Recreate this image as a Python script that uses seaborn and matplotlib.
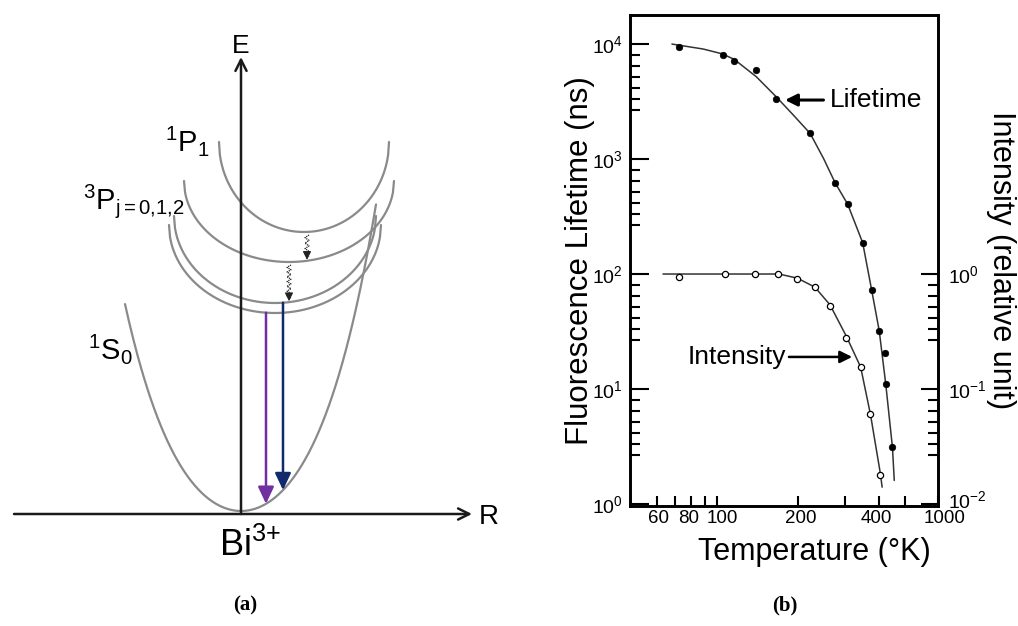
import numpy as np
import matplotlib
matplotlib.use('Agg')
import matplotlib.pyplot as plt
import matplotlib.ticker as mticker
import matplotlib.transforms as mtransforms
import seaborn as sns

sns.set_theme(style='white')
plt.rcParams['font.family'] = ['Liberation Sans', 'DejaVu Sans']
plt.rcParams['mathtext.fontset'] = 'custom'
plt.rcParams['mathtext.rm'] = 'Liberation Sans'
plt.rcParams['mathtext.it'] = 'Liberation Sans:italic'
plt.rcParams['mathtext.bf'] = 'Liberation Sans:bold'
plt.rcParams['mathtext.default'] = 'regular'
plt.rcParams.update({'text.color': 'black', 'axes.labelcolor': 'black',
                     'xtick.color': 'black', 'ytick.color': 'black'})

# ---- panel (a): configuration coordinate diagram (R, E in drawing units) ----
well_labels = [r'$^{1}$P$_{1}$', r'$^{3}$P$_{\mathrm{j{=}0{,}1{,}2}}$']
well_R0 = [63, 48, 34, 34]          # centre of each excited-state well
well_halfwidth = [85, 105, 101, 106]
well_Etop = [372, 333, 298, 289]
well_Emin = [282, 252, 211, 201]
ground_label = r'$^{1}$S$_{0}$'
ground_coef = [3, 0.0113, 3.03e-7]  # E = c0 + c2*R^2 + c4*R^4
ground_Rlim = [-116, 135]
emit_R = [25, 42]
emit_from = [3, 2]
emit_colors = ['#7030a0', '#102a6b']
relax_R = [66, 48]
relax_from = [0, 1]
relax_to = [1, 2]

# ---- panel (b): lifetime and intensity vs temperature ----
temp_lt = [72, 105, 116, 140, 166, 222, 275, 306, 348, 376, 401, 421, 424, 449]
lifetime_ns = [9500, 8000, 7100, 5900, 3300, 1670, 620, 405, 187, 72, 32, 20.7, 11.0, 3.1]
temp_int = [72, 107, 138, 169, 199, 231, 263, 302, 342, 372, 405]
intensity_rel = [0.95, 1.0, 1.0, 1.01, 0.91, 0.77, 0.53, 0.28, 0.155, 0.060, 0.018]
fit_temp_lt = [68, 89, 105, 116, 140, 166, 192, 222, 249, 275, 306, 348, 376, 401, 424, 449, 456]
fit_lifetime = [10000, 9050, 8200, 7350, 5200, 3480, 2420, 1670, 1010, 620, 405, 187, 72, 32, 11, 3.1, 1.6]
fit_temp_int = [63, 100, 140, 170, 199, 231, 263, 302, 342, 372, 405, 411]
fit_intensity = [1.0, 1.0, 1.0, 1.0, 0.92, 0.77, 0.54, 0.29, 0.155, 0.06, 0.0183, 0.014]
x_labels = ['60', '80', '100', '200', '400', '1000']


def well_E(i, R):
    u = np.clip((np.asarray(R) - well_R0[i]) / well_halfwidth[i], -1, 1)
    return well_Etop[i] - (well_Etop[i] - well_Emin[i]) * np.sqrt(1 - u ** 2)


def ground_E(R):
    R = np.asarray(R)
    return ground_coef[0] + ground_coef[1] * R ** 2 + ground_coef[2] * R ** 4


fig = plt.figure(figsize=(10.18, 6.26), dpi=100)

# ------------------------------ panel (a) ------------------------------
axa = fig.add_axes([0, 0, 0.5, 1])
axa.set_xlim(-241, 268)
axa.set_ylim(-112, 514)
axa.axis('off')

grey = '#8a8a8a'
for i in range(len(well_R0)):
    R = np.linspace(well_R0[i] - well_halfwidth[i], well_R0[i] + well_halfwidth[i], 200)
    sns.lineplot(x=R, y=well_E(i, R), ax=axa, color=grey, lw=1.6, sort=False, estimator=None)
Rg = np.linspace(ground_Rlim[0], ground_Rlim[1], 300)
sns.lineplot(x=Rg, y=ground_E(Rg), ax=axa, color=grey, lw=1.6, sort=False, estimator=None)

# axes arrows
axa.annotate('', xy=(0, 457), xytext=(0, 0),
             arrowprops=dict(arrowstyle='->', lw=1.8, color='k', shrinkA=0, shrinkB=0, mutation_scale=20))
axa.annotate('', xy=(231, 0), xytext=(-227, 0),
             arrowprops=dict(arrowstyle='->', lw=1.8, color='k', shrinkA=0, shrinkB=0, mutation_scale=20))
axa.text(0, 468, 'E', fontsize=19, ha='center', va='center')
axa.text(248, -3, 'R', fontsize=20, ha='center', va='center')
axa.text(9, -32, r'Bi$^{3{+}}$', fontsize=26, ha='center', va='center')

axa.text(-54, 373, well_labels[0], fontsize=21, ha='center', va='center')
axa.text(-107, 313, well_labels[1], fontsize=21, ha='center', va='center')
axa.text(-131, 165, ground_label, fontsize=21, ha='center', va='center')

# radiative transitions
for R, src, col in zip(emit_R, emit_from, emit_colors):
    axa.annotate('', xy=(R, float(ground_E(R))), xytext=(R, float(well_E(src, R))),
                 arrowprops=dict(arrowstyle='-|>,head_length=0.85,head_width=0.4', lw=1.8,
                                 color=col, shrinkA=0, shrinkB=0, mutation_scale=12))

# non-radiative relaxation (wavy arrows)
for R, a, b in zip(relax_R, relax_from, relax_to):
    e0 = float(well_E(a, R)) - 3
    e1 = float(well_E(b, R)) + 4
    n = int((e0 - e1) / 2.2)
    Es = np.linspace(e0, e1, n)
    Rs = R + 2.0 * (-1) ** np.arange(n)
    axa.plot(Rs, Es, color='#222222', lw=0.9, ls=(0, (1, 0.7)))
    axa.annotate('', xy=(R, e1 - 3), xytext=(R, e1 + 1),
                 arrowprops=dict(arrowstyle='-|>,head_length=0.5,head_width=0.25', lw=0.8,
                                 color='#222222', shrinkA=0, shrinkB=0, mutation_scale=10))

# ------------------------------ panel (b) ------------------------------
axb = fig.add_axes([630 / 1018, 1 - 506 / 626, 308 / 1018, 491 / 626])
axb.set_xscale('log')
axb.set_yscale('log')
axb.set_xlim(47.5, 663)
axb.set_ylim(0.96, 17900)

line_col = '#333333'
sns.lineplot(x=fit_temp_lt, y=fit_lifetime, ax=axb, color=line_col, lw=1.1, sort=False, estimator=None)
sns.scatterplot(x=temp_lt, y=lifetime_ns, ax=axb, color='black', s=22, edgecolor='black', linewidth=0.5, zorder=3)

axi = axb.twinx()
axi.set_yscale('log')
axi.set_ylim(0.0096, 179)
sns.lineplot(x=fit_temp_int, y=fit_intensity, ax=axi, color=line_col, lw=1.1, sort=False, estimator=None)
sns.scatterplot(x=temp_int, y=intensity_rel, ax=axi, facecolor='white', s=20, edgecolor='black',
                linewidth=0.9, zorder=3)

# ticks
x_major = [60, 80, 100, 200, 400, 662]
axb.xaxis.set_major_locator(mticker.FixedLocator(x_major))
axb.xaxis.set_major_formatter(mticker.FixedFormatter(x_labels))
axb.xaxis.set_minor_locator(mticker.FixedLocator([70, 90, 300, 500]))
axb.xaxis.set_minor_formatter(mticker.NullFormatter())

minor_left = [10 ** (n - 0.095 * k) for n in range(1, 5) for k in range(1, 7)]
minor_right = [10 ** (n - 0.095 * k) for n in range(-1, 1) for k in range(1, 7)]
axb.yaxis.set_major_locator(mticker.FixedLocator([1, 10, 100, 1000, 10000]))
axb.yaxis.set_minor_locator(mticker.FixedLocator(minor_left))
axb.yaxis.set_minor_formatter(mticker.NullFormatter())
axi.yaxis.set_major_locator(mticker.FixedLocator([0.01, 0.1, 1]))
axi.yaxis.set_minor_locator(mticker.FixedLocator(minor_right))
axi.yaxis.set_minor_formatter(mticker.NullFormatter())

axb.tick_params(axis='y', which='major', direction='in', length=13.5, width=1.5, labelsize=14,
                pad=5, left=True, right=False)
axb.tick_params(axis='y', which='minor', direction='in', length=7, width=1.5, left=True, right=False)
axb.tick_params(axis='x', which='both', direction='in', length=7, width=1.5, labelsize=13.5,
                pad=4, bottom=True, top=False)
axi.tick_params(axis='y', which='major', direction='in', length=12, width=1.5, labelsize=14,
                pad=7, right=True, left=False)
axi.tick_params(axis='y', which='minor', direction='in', length=7, width=1.5, right=True, left=False)

# small nudges of tick labels, as in the scanned original
nudges_px = [1, -2, 5, 3, -3, 7]
for lab, dx in zip(axb.get_xticklabels(), nudges_px):
    lab.set_transform(lab.get_transform() + mtransforms.ScaledTranslation(dx / 100, 2 / 100, fig.dpi_scale_trans))
right_labels = axi.get_yticklabels()
right_labels[0].set_transform(right_labels[0].get_transform()
                              + mtransforms.ScaledTranslation(0, 5 / 100, fig.dpi_scale_trans))

for a in (axb, axi):
    for s in a.spines.values():
        s.set_color('black')
        s.set_linewidth(1.9)

axb.set_xlabel('Temperature (°K)', fontsize=22, va='center')
axb.xaxis.set_label_coords(0.60, -0.094)
axb.set_ylabel('Fluorescence Lifetime (ns)', fontsize=22.5, va='center')
axb.yaxis.set_label_coords(-0.162, 0.5)
axi.set_ylabel('Intensity (relative unit)', fontsize=22, rotation=270, va='center')
axi.yaxis.set_label_coords(1.205, 0.5)

axb.annotate('Lifetime', xy=(179, 3260), xytext=(262, 3260), fontsize=19, ha='left', va='center',
             arrowprops=dict(arrowstyle='-|>,head_length=0.6,head_width=0.3', lw=2.2, color='black',
                             shrinkA=2, shrinkB=0, mutation_scale=12))
axi.annotate('Intensity', xy=(318, 0.19), xytext=(180, 0.19), fontsize=19, ha='right', va='center',
             arrowprops=dict(arrowstyle='-|>,head_length=0.6,head_width=0.3', lw=1.8, color='black',
                             shrinkA=0, shrinkB=0, mutation_scale=12))

fig.text(245 / 1018, 1 - 605 / 626, '(a)', fontsize=15, fontweight='bold', family='Liberation Serif',
         ha='center', va='center')
fig.text(785 / 1018, 1 - 605 / 626, '(b)', fontsize=15, fontweight='bold', family='Liberation Serif',
         ha='center', va='center')

fig.savefig('out.png', dpi=100)
